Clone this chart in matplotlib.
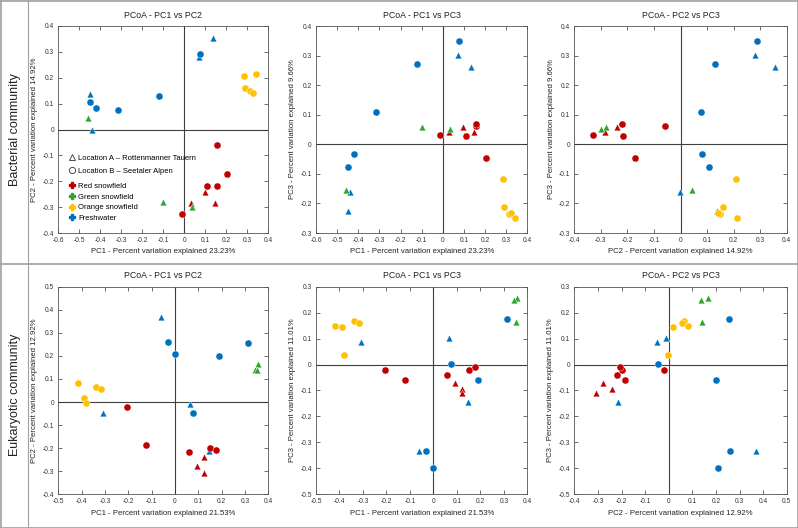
import numpy as np
import matplotlib
matplotlib.use('Agg')
import matplotlib.pyplot as plt
from matplotlib.lines import Line2D
from matplotlib.ticker import MultipleLocator, FuncFormatter

# colours per habitat
cols = {'red': '#C00000', 'green': '#2EA52E', 'orange': '#FFC000', 'blue': '#0070C0'}

# bacterial community: habitat, location (A=triangle, B=circle), PC1, PC2, PC3
bac_hab = ['blue', 'blue', 'blue', 'blue', 'blue', 'blue', 'blue', 'blue', 'blue',
           'orange', 'orange', 'orange', 'orange', 'orange',
           'red', 'red', 'red', 'red', 'red', 'red', 'red', 'red',
           'green', 'green', 'green']
bac_loc = ['A', 'A', 'B', 'B', 'B', 'B', 'B', 'A', 'A',
           'B', 'B', 'B', 'B', 'B',
           'B', 'B', 'B', 'B', 'B', 'A', 'A', 'A',
           'A', 'A', 'A']
bac_pc1 = [0.135, 0.07, 0.075, -0.12, -0.315, -0.42, -0.45, -0.45, -0.44,
           0.285, 0.29, 0.315, 0.325, 0.34,
           0.155, 0.205, 0.11, 0.158, -0.012, 0.098, 0.03, 0.148,
           -0.46, -0.10, 0.035]
bac_pc2 = [0.355, 0.28, 0.29, 0.13, 0.077, 0.082, 0.107, 0.137, -0.003,
           0.208, 0.16, 0.15, 0.14, 0.213,
           -0.06, -0.173, -0.217, -0.22, -0.328, -0.24, -0.285, -0.285,
           0.045, -0.282, -0.298]
bac_pc3 = [0.262, 0.303, 0.35, 0.272, 0.11, -0.032, -0.076, -0.227, -0.163,
           -0.117, -0.212, -0.235, -0.233, -0.25,
           0.062, -0.045, 0.027, 0.068, 0.031, 0.06, 0.043, 0.04,
           -0.156, 0.057, 0.052]

# eukaryotic community
euk_hab = ['blue', 'blue', 'blue', 'blue', 'blue', 'blue', 'blue', 'blue', 'blue',
           'green', 'green', 'green',
           'orange', 'orange', 'orange', 'orange', 'orange',
           'red', 'red', 'red', 'red', 'red', 'red', 'red', 'red']
euk_loc = ['A', 'B', 'B', 'B', 'B', 'A', 'B', 'A', 'A',
           'A', 'A', 'A',
           'B', 'B', 'B', 'B', 'B',
           'B', 'B', 'B', 'B', 'B', 'A', 'A', 'A']
euk_pc1 = [-0.06, -0.03, 0.0, 0.19, 0.313, 0.065, 0.077, -0.31, 0.147,
           0.355, 0.343, 0.35,
           -0.417, -0.34, -0.315, -0.39, -0.38,
           -0.205, -0.122, 0.06, 0.15, 0.176, 0.123, 0.093, 0.123]
euk_pc2 = [0.37, 0.26, 0.21, 0.2, 0.255, -0.01, -0.047, -0.048, -0.213,
           0.165, 0.138, 0.14,
           0.083, 0.064, 0.055, 0.017, -0.005,
           -0.02, -0.185, -0.218, -0.198, -0.208, -0.24, -0.277, -0.307]
euk_pc3 = [-0.335, -0.335, -0.4, -0.058, 0.177, 0.103, 0.003, 0.088, -0.143,
           0.258, 0.248, 0.163,
           0.15, 0.168, 0.162, 0.145, 0.038,
           -0.02, -0.058, -0.04, -0.022, -0.008, -0.095, -0.073, -0.11]

bac_var = {'PC1': 23.23, 'PC2': 14.92, 'PC3': 9.66}
euk_var = {'PC1': 21.53, 'PC2': 12.92, 'PC3': 11.01}

bac_lims = {'PC1': (-0.6, 0.4), 'PC2': (-0.4, 0.4), 'PC3': (-0.3, 0.4)}
euk_lims = {'PC1': (-0.5, 0.4), 'PC2': (-0.4, 0.5), 'PC3': (-0.5, 0.3)}

pairs = [('PC1', 'PC2'), ('PC1', 'PC3'), ('PC2', 'PC3')]

plt.rcParams['font.family'] = ['Liberation Sans', 'DejaVu Sans']

W, H = 798, 528
fig = plt.figure(figsize=(W / 100, H / 100), dpi=100)

col_px = [(58.3, 268.3), (316, 527.3), (574.3, 786.7)]
row_px = [(26, 233), (286.7, 494.3)]


def fmt(v, pos):
    v = round(v, 2)
    if abs(v) < 1e-9:
        return '0'
    return ('%g' % v)


def panel(ax, data, var, lims, xa, ya):
    hab, loc, d = data
    x = np.array(d[xa])
    y = np.array(d[ya])
    for i in range(len(hab)):
        m = '^' if loc[i] == 'A' else 'o'
        ax.scatter(x[i], y[i], s=26 if m == 'o' else 24, marker=m, c=cols[hab[i]],
                   edgecolors='white', linewidths=0.3, zorder=3)
    ax.set_xlim(lims[xa])
    ax.set_ylim(lims[ya])
    ax.axhline(0, color='#404040', lw=0.8, zorder=1)
    ax.axvline(0, color='#404040', lw=0.8, zorder=1)
    ax.xaxis.set_major_locator(MultipleLocator(0.1))
    ax.yaxis.set_major_locator(MultipleLocator(0.1))
    ax.xaxis.set_major_formatter(FuncFormatter(fmt))
    ax.yaxis.set_major_formatter(FuncFormatter(fmt))
    ax.tick_params(direction='in', top=True, right=True, length=3, width=0.5,
                   labelsize=4.8, colors='#333333', pad=3)
    for s in ax.spines.values():
        s.set_color('#555555')
        s.set_linewidth(0.6)
    ax.set_title('PCoA - %s vs %s' % (xa, ya), fontsize=6.3, pad=6, color='#222222')
    ax.set_xlabel('%s - Percent variation explained %.2f%%' % (xa, var[xa]), fontsize=5.6,
                  labelpad=3, color='#222222')
    ax.set_ylabel('%s - Percent variation explained %.2f%%' % (ya, var[ya]), fontsize=5.6,
                  labelpad=3, color='#222222')


datasets = [
    ((bac_hab, bac_loc, {'PC1': bac_pc1, 'PC2': bac_pc2, 'PC3': bac_pc3}), bac_var, bac_lims),
    ((euk_hab, euk_loc, {'PC1': euk_pc1, 'PC2': euk_pc2, 'PC3': euk_pc3}), euk_var, euk_lims),
]

axes = []
for r, (data, var, lims) in enumerate(datasets):
    for c, (xa, ya) in enumerate(pairs):
        x0, x1 = col_px[c]
        y0, y1 = row_px[r]
        ax = fig.add_axes([x0 / W, 1 - y1 / H, (x1 - x0) / W, (y1 - y0) / H])
        panel(ax, data, var, lims, xa, ya)
        axes.append(ax)

# legend in first panel
ax = axes[0]
h_loc = [Line2D([], [], ls='', marker='^', mfc='none', mec='#333333', ms=4.5, mew=0.6),
         Line2D([], [], ls='', marker='o', mfc='none', mec='#333333', ms=4.5, mew=0.6)]
lg1 = ax.legend(h_loc, ['Location A \u2013 Rottenmanner Tauern', 'Location B \u2013 Seetaler Alpen'],
                loc='upper left', bbox_to_anchor=(0.025, 0.405), frameon=False, fontsize=5.5,
                handlelength=0.8, handletextpad=0.4, labelspacing=0.7, borderaxespad=0.3)
ax.add_artist(lg1)
h_hab = [Line2D([], [], ls='', marker='P', color=cols[k], ms=4) for k in ['red', 'green', 'orange', 'blue']]
ax.legend(h_hab, ['Red snowfield', 'Green snowfield', 'Orange snowfield', 'Freshwater'],
          loc='upper left', bbox_to_anchor=(0.025, 0.27), frameon=False, fontsize=5.5,
          handlelength=0.8, handletextpad=0.4, labelspacing=0.45, borderaxespad=0.3)

# table frame
gc = '#A0A0A0'
fig.add_artist(Line2D([0.5 / W, 0.5 / W], [0, 1], color=gc, lw=1.2))
fig.add_artist(Line2D([1 - 0.5 / W, 1 - 0.5 / W], [0, 1], color=gc, lw=1.2))
fig.add_artist(Line2D([0, 1], [1 - 0.5 / H, 1 - 0.5 / H], color=gc, lw=1.2))
fig.add_artist(Line2D([0, 1], [0.5 / H, 0.5 / H], color=gc, lw=1.2))
fig.add_artist(Line2D([0, 1], [1 - 264 / H, 1 - 264 / H], color=gc, lw=1.2))
fig.add_artist(Line2D([28 / W, 28 / W], [0, 1], color=gc, lw=0.8))

fig.text(15 / W, 1 - 130 / H, 'Bacterial community', rotation=90, ha='center', va='center',
         fontsize=9, color='#222222')
fig.text(15 / W, 1 - 395 / H, 'Eukaryotic community', rotation=90, ha='center', va='center',
         fontsize=9, color='#222222')

fig.savefig('out.png', dpi=100)
